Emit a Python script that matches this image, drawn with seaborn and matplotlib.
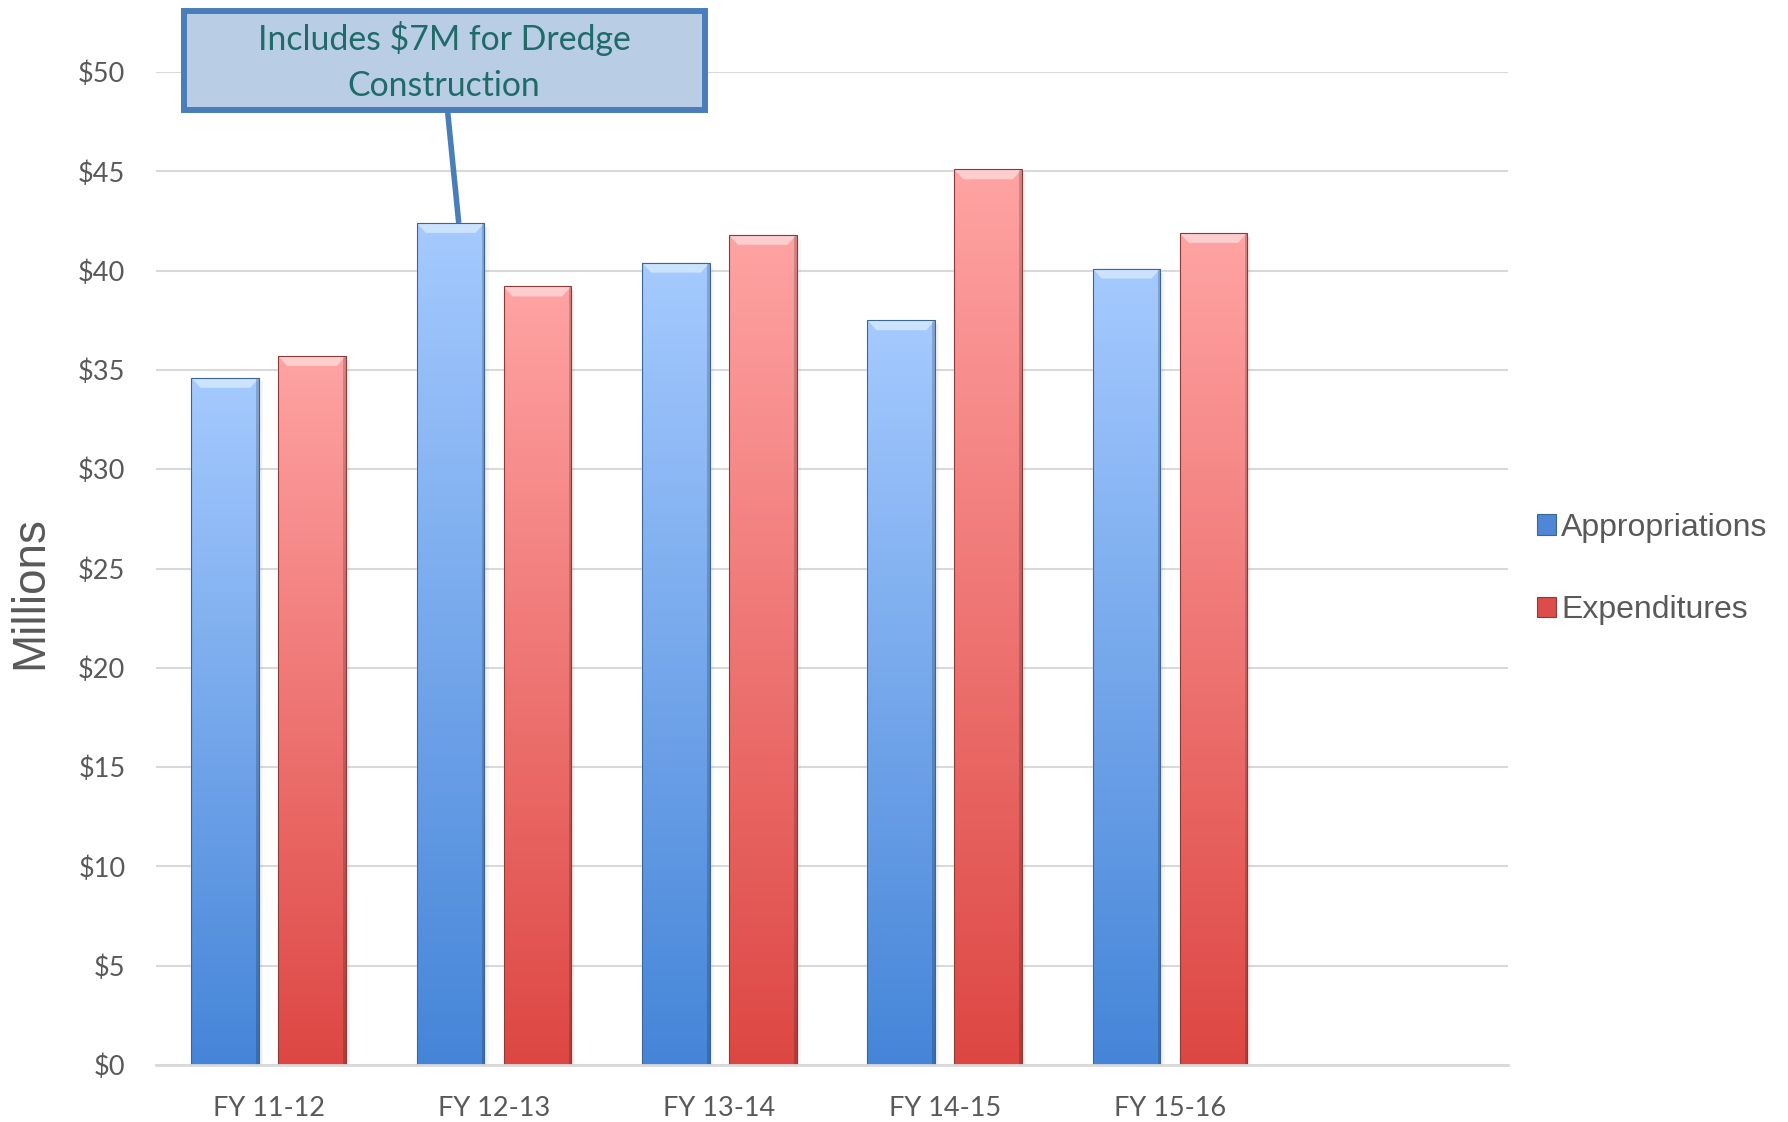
import numpy as np
import pandas as pd
import matplotlib
matplotlib.use("Agg")
import matplotlib.pyplot as plt
import seaborn as sns
from matplotlib.colors import LinearSegmentedColormap
from matplotlib.patches import Rectangle, Polygon, Patch

# ---- data (millions of dollars) ----
years = ["FY 11-12", "FY 12-13", "FY 13-14", "FY 14-15", "FY 15-16"]
appropriations = [34.6, 42.4, 40.4, 37.5, 40.1]
expenditures = [35.7, 39.2, 41.8, 45.1, 41.9]
series = ["Appropriations", "Expenditures"]
yticks = list(range(0, 51, 5))
note = "Includes $7M for Dredge\nConstruction"

df = pd.DataFrame({
    "year": years * 2,
    "series": [series[0]] * len(years) + [series[1]] * len(years),
    "value": appropriations + expenditures,
})

# ---- styling ----
sns.set_theme(style="white")
plt.rcParams["font.family"] = ["Lato", "DejaVu Sans"]
GREY = "#595959"
GRID = "#d9d9d9"
mid_colors = ["#4f86d6", "#dc4c48"]
grad_colors = [("#4585d8", "#a5caff"), ("#dd4743", "#ffa3a3")]
bevel_colors = ["#d4e8ff", "#ffd6d6"]
edge_colors = ["#3c6494", "#8c3a38"]

fig = plt.figure(figsize=(17.88, 11.22), dpi=100)
ax = fig.add_axes([156 / 1788, 1 - 1065 / 1122, (1508 - 156) / 1788, (1065 - 72) / 1122])

sns.barplot(data=df, x="year", y="value", hue="series", order=years,
            hue_order=series, palette=mid_colors, saturation=1,
            width=0.77, gap=0.22, legend=False, ax=ax, zorder=2)

# ---- gradient fill, bevel and shadow on each bar ----
grad = np.linspace(0, 1, 256).reshape(-1, 1)
for k, cont in enumerate(ax.containers):
    cmap = LinearSegmentedColormap.from_list(f"g{k}", list(grad_colors[k]))
    for bar in cont:
        x0, y0 = bar.get_x(), bar.get_y()
        w, h = bar.get_width(), bar.get_height()
        x1, top = x0 + w, y0 + h
        # soft drop shadow on the right
        for i, a in enumerate([0.10, 0.06, 0.03]):
            ax.add_patch(Rectangle((x1 + i * 0.006, y0), 0.006, h - 0.2,
                                   facecolor="black", alpha=a, lw=0, zorder=1.5))
        im = ax.imshow(grad, extent=[x0, x1, y0, top], origin="lower",
                       cmap=cmap, aspect="auto", zorder=2.1, interpolation="bicubic")
        im.set_clip_path(bar)
        dx, dh = 0.04, 0.5
        ax.add_patch(Polygon([(x0, top), (x1, top), (x1 - dx, top - dh), (x0 + dx, top - dh)],
                             closed=True, facecolor=bevel_colors[k], edgecolor="none",
                             alpha=0.85, zorder=2.2))
        ax.add_patch(Rectangle((x1 - 0.012, y0), 0.012, h, facecolor="black",
                               alpha=0.18, lw=0, zorder=2.2))
        ax.add_patch(Rectangle((x0, y0), w, h, facecolor="none",
                               edgecolor=edge_colors[k], lw=0.8, zorder=2.3))

# ---- axes ----
ax.set_xlim(-0.5, 5.5)
ax.set_ylim(0, 50)
ax.set_yticks(yticks)
ax.set_yticklabels([f"${v}" for v in yticks])
ax.set_xlabel("")
ax.set_ylabel("")
ax.yaxis.grid(True, color=GRID, lw=1.5)
ax.set_axisbelow(True)
for s in ["left", "right", "top"]:
    ax.spines[s].set_visible(False)
ax.spines["bottom"].set_color(GRID)
ax.spines["bottom"].set_linewidth(2)
ax.tick_params(axis="y", length=0, pad=22, labelsize=19.5, labelcolor=GREY)
ax.tick_params(axis="x", length=0, pad=22, labelsize=19.5, labelcolor=GREY)

fig.text(30 / 1788, 1 - 593 / 1122, "Millions", rotation=90, ha="center", va="center",
         fontsize=33, color=GREY, family=["Liberation Sans", "DejaVu Sans"])

# ---- legend ----
handles = [Patch(facecolor=c, edgecolor=e, lw=0.8) for c, e in zip(mid_colors, edge_colors)]
fig.legend(handles, series, loc="center left", bbox_to_anchor=(1521 / 1788, 1 - 569 / 1122),
           frameon=False, borderpad=0, handlelength=0.6, handleheight=0.6,
           handletextpad=0.15, labelspacing=1.65, labelcolor=GREY,
           prop={"family": ["Liberation Sans", "DejaVu Sans"], "size": 23})

# ---- callout ----
box_left, box_right, box_bottom, box_top = -0.377, 1.935, 48.08, 53.07
ax.add_patch(Rectangle((box_left, box_bottom), box_right - box_left, box_top - box_bottom,
                       facecolor="#b9cde5", edgecolor="#4a7ebb", lw=4.3,
                       clip_on=False, zorder=10))
ax.text((box_left + box_right) / 2, (box_bottom + box_top) / 2 - 0.05, note,
        ha="center", va="center", fontsize=24.3, color="#1f6b69", linespacing=1.55,
        zorder=11, clip_on=False)
target = ax.containers[0][1]
tx = target.get_x() + target.get_width() * 0.62
ax.plot([tx - 0.05, tx], [box_bottom, appropriations[1]], color="#4a7ebb", lw=4,
        solid_capstyle="butt", clip_on=False, zorder=9)

fig.savefig("out.png", dpi=100, facecolor="white")
